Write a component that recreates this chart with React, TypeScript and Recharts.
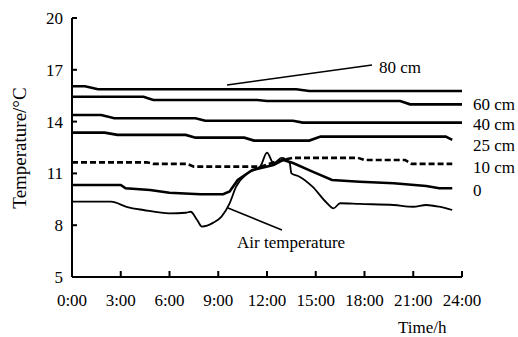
import React from 'react';
import { LineChart, Line, XAxis, YAxis, ReferenceLine } from 'recharts';

// hours on the x axis, temperatures in °C
const hourTicks = [0, 3, 6, 9, 12, 15, 18, 21, 24];
const tempTicks = [5, 8, 11, 14, 17, 20];

const h80 = [0, 0.8, 1.6, 13.8, 14.6, 24];
const t80 = [16.05, 16.05, 15.87, 15.87, 15.77, 15.77];

const h60 = [0, 4.4, 5.0, 11.4, 12.0, 20.2, 20.8, 24];
const t60 = [15.44, 15.44, 15.25, 15.25, 15.19, 15.19, 15.0, 15.0];

const h40 = [0, 1.8, 2.6, 7.6, 8.2, 13.6, 14.2, 24];
const t40 = [14.38, 14.38, 14.19, 14.19, 14.05, 14.05, 13.94, 13.94];

const h25 = [0, 2.0, 2.8, 7.0, 7.6, 10.6, 11.2, 14.6, 15.3, 23.0, 23.4];
const t25 = [13.36, 13.36, 13.23, 13.23, 13.07, 13.07, 12.9, 12.9, 13.13, 13.13, 12.94];

const h10 = [0, 4.6, 5.0, 7.1, 7.5, 11.6, 12.6, 13.6, 17.6, 18.0, 20.5, 20.9, 23.4];
const t10 = [11.64, 11.64, 11.55, 11.55, 11.39, 11.39, 11.7, 11.9, 11.9, 11.78, 11.78, 11.55, 11.55];

const h0 = [0, 3.0, 3.3, 4.8, 6.0, 7.9, 9.3, 9.7, 10.2, 11.1, 12.4, 13.0, 13.6, 14.8, 16.0, 17.7, 19.8, 21.8, 22.6, 23.4];
const t0 = [10.33, 10.33, 10.14, 10.04, 9.88, 9.79, 9.79, 9.95, 10.62, 11.2, 11.49, 11.78, 11.6, 11.1, 10.62, 10.52, 10.43, 10.27, 10.14, 10.14];

const hAir = [0, 2.4, 3.4, 4.4, 6.0, 7.0, 7.3, 7.7, 8.0, 8.7, 9.2, 9.7, 10.1, 10.8, 11.6, 12.0, 12.4, 12.9, 13.4, 13.5, 14.0, 14.8, 15.7, 16.1, 16.5, 17.7, 19.8, 21.0, 21.8, 22.6, 23.4];
const tAir = [9.36, 9.36, 9.05, 8.88, 8.69, 8.72, 8.78, 8.3, 7.92, 8.15, 8.5, 9.27, 10.23, 11.0, 11.43, 12.2, 11.59, 11.9, 11.59, 11.0, 10.81, 10.23, 9.27, 8.98, 9.27, 9.23, 9.17, 9.07, 9.17, 9.07, 8.88];

const toRows = (hours: number[], temps: number[]) => hours.map((t, i) => ({ t, v: temps[i] }));

const soil = [
  { name: '80 cm', rows: toRows(h80, t80), dash: undefined },
  { name: '60 cm', rows: toRows(h60, t60), dash: undefined },
  { name: '40 cm', rows: toRows(h40, t40), dash: undefined },
  { name: '25 cm', rows: toRows(h25, t25), dash: undefined },
  { name: '10 cm', rows: toRows(h10, t10), dash: '6 3' },
  { name: '0', rows: toRows(h0, t0), dash: undefined },
];
const airRows = toRows(hAir, tAir);

const font = '"Liberation Serif", "DejaVu Serif", serif';

const YTick = (props: any) => {
  const { x, y, payload } = props;
  return (
    <g>
      <line x1={x} x2={x + 5} y1={y} y2={y} stroke="#000" strokeWidth={2} />
      <text x={x - 9} y={y} dy={6} textAnchor="end" fontSize={17} fontFamily={font} fill="#000">
        {payload.value}
      </text>
    </g>
  );
};

const XTick = (props: any) => {
  const { x, y, payload } = props;
  return (
    <g>
      <line x1={x} x2={x} y1={y} y2={y - 6} stroke="#000" strokeWidth={2} />
      <text x={x} y={y + 29} textAnchor="middle" fontSize={17} fontFamily={font} fill="#000">
        {`${payload.value}:00`}
      </text>
    </g>
  );
};

const Tag = ({ left, top, children, size = 17 }: any) => (
  <span
    style={{
      position: 'absolute',
      left,
      top,
      transform: 'translateY(-50%)',
      fontFamily: font,
      fontSize: size,
      lineHeight: 1,
      whiteSpace: 'nowrap',
      color: '#000',
    }}
  >
    {children}
  </span>
);

export default function App() {
  return (
    <div style={{ position: 'absolute', left: 0, top: 0, width: 518, height: 337, background: '#fff' }}>
      <LineChart width={518} height={337} margin={{ top: 18, right: 56, left: 12, bottom: 30 }}>
        <XAxis
          dataKey="t"
          type="number"
          domain={[0, 24]}
          ticks={hourTicks}
          allowDuplicatedCategory={false}
          height={30}
          tickSize={0}
          tickMargin={0}
          tickLine={false}
          tick={<XTick />}
          axisLine={{ stroke: '#000', strokeWidth: 2 }}
        />
        <YAxis
          type="number"
          domain={[5, 20]}
          ticks={tempTicks}
          width={60}
          tickSize={0}
          tickMargin={0}
          tickLine={false}
          tick={<YTick />}
          axisLine={{ stroke: '#000', strokeWidth: 2 }}
        />
        <ReferenceLine segment={[{ x: 9.54, y: 16.12 }, { x: 18.46, y: 17.28 }]} stroke="#000" strokeWidth={1.5} />
        <ReferenceLine segment={[{ x: 9.6, y: 9.0 }, { x: 12.92, y: 7.72 }]} stroke="#000" strokeWidth={1.5} />
        {soil.map((s) => (
          <Line
            key={s.name}
            data={s.rows}
            dataKey="v"
            type="linear"
            stroke="#000"
            strokeWidth={2.6}
            strokeDasharray={s.dash}
            dot={false}
            isAnimationActive={false}
          />
        ))}
        <Line
          data={airRows}
          dataKey="v"
          type="monotone"
          stroke="#000"
          strokeWidth={1.8}
          dot={false}
          isAnimationActive={false}
        />
      </LineChart>
      <Tag left={379} top={67}>80 cm</Tag>
      <Tag left={473} top={104}>60 cm</Tag>
      <Tag left={473} top={124}>40 cm</Tag>
      <Tag left={473} top={145}>25 cm</Tag>
      <Tag left={473} top={167}>10 cm</Tag>
      <Tag left={473} top={190}>0</Tag>
      <Tag left={237} top={242}>Air temperature</Tag>
      <Tag left={398} top={327}>Time/h</Tag>
      <span
        style={{
          position: 'absolute',
          left: 19,
          top: 148,
          transform: 'translate(-50%, -50%) rotate(-90deg)',
          fontFamily: font,
          fontSize: 19,
          lineHeight: 1,
          whiteSpace: 'nowrap',
          color: '#000',
        }}
      >
        Temperature/°C
      </span>
    </div>
  );
}
